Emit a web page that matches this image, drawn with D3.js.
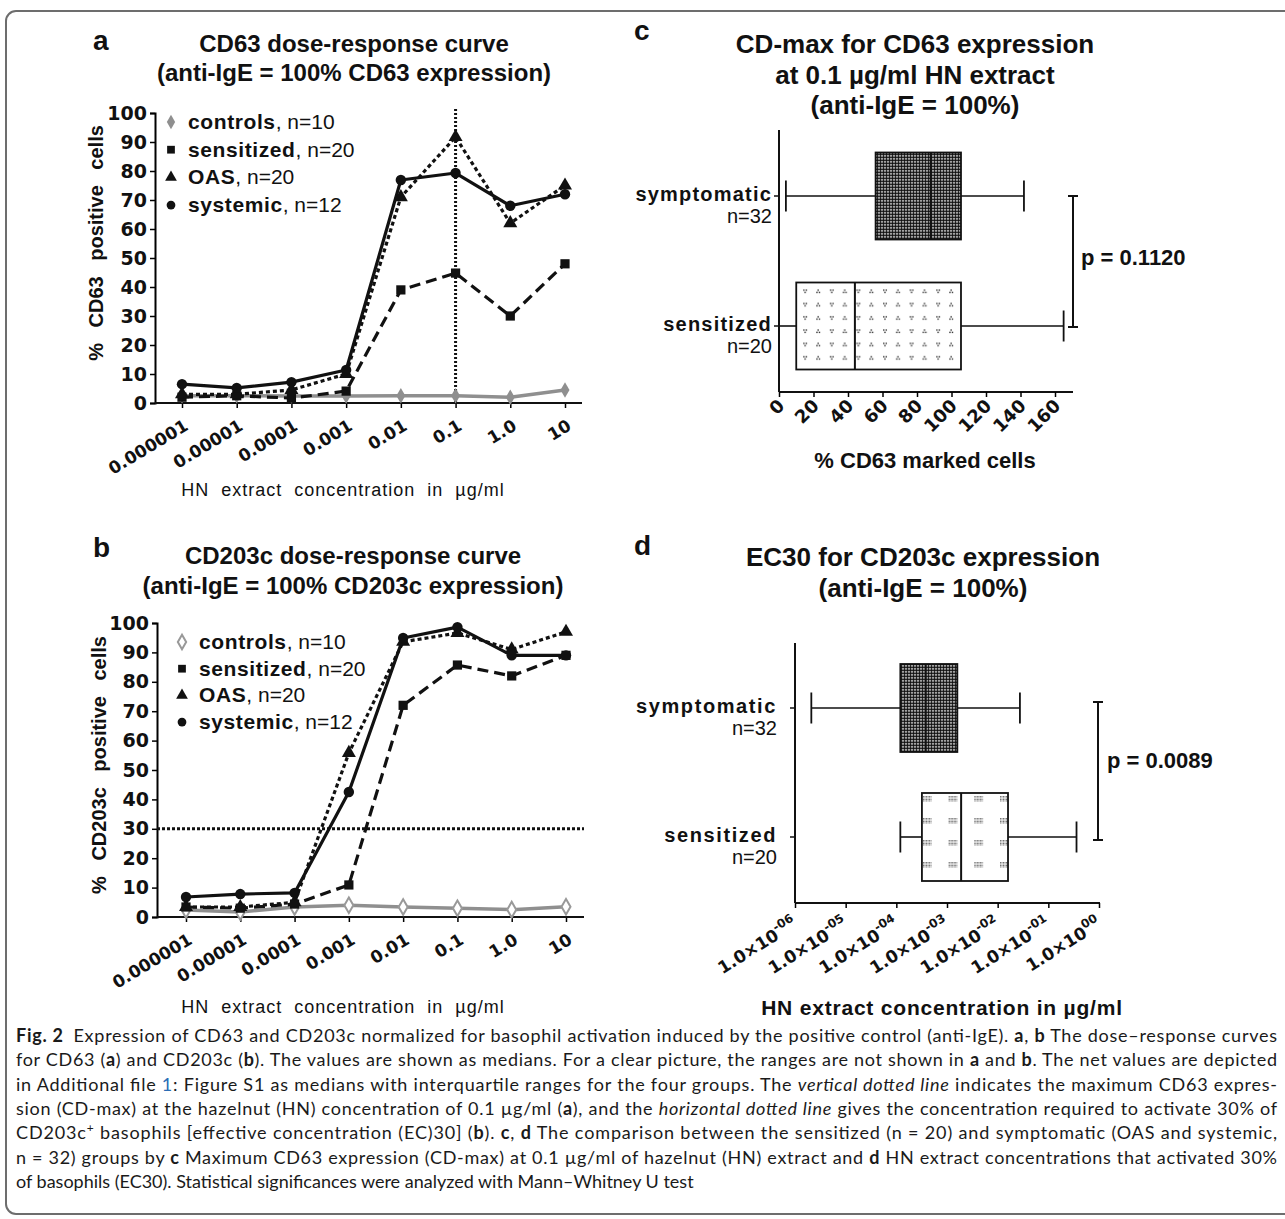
<!DOCTYPE html>
<html><head><meta charset="utf-8">
<script src="https://cdnjs.cloudflare.com/ajax/libs/d3/7.8.5/d3.min.js"></script>
<style>
body{margin:0;background:#fff;}
text{font-family:"Liberation Sans",Arial,sans-serif;fill:#111;}
.num{font-family:"DejaVu Sans",sans-serif;font-weight:bold;}
.title{font-weight:bold;}
.letter{font-weight:bold;font-size:28px;}
.cap{font-family:Lato,"Open Sans",sans-serif;font-size:18px;fill:#1a1a1a;}
</style></head><body>
<svg id="fig" width="1285" height="1219" xmlns="http://www.w3.org/2000/svg"></svg>
<script>
// ---------------- data ----------------
const concLabels = ["0.000001","0.00001","0.0001","0.001","0.01","0.1","1.0","10"];
const groupNames = ["controls","sensitized","OAS","systemic"];
const groupN = [10,20,20,12];
const cd63Controls   = [2.5,2.5,2.4,2.4,2.5,2.5,2.0,4.5];
const cd63Sensitized = [2.0,2.5,1.7,4.1,39.0,44.8,30.0,48.0];
const cd63OAS        = [3.0,3.0,4.5,10.0,71.0,91.7,62.0,75.0];
const cd63Systemic   = [6.5,5.2,7.2,11.4,76.9,79.3,68.0,72.0];
const cd203Controls   = [2.4,1.7,3.4,4.0,3.4,3.0,2.5,3.5];
const cd203Sensitized = [3.4,3.0,4.4,10.9,72.0,85.7,82.0,89.0];
const cd203OAS        = [3.4,3.4,5.0,55.8,93.6,96.6,91.0,97.0];
const cd203Systemic   = [6.8,7.8,8.2,42.5,94.9,98.6,89.0,89.0];
const percentTicks = [0,10,20,30,40,50,60,70,80,90,100];
const cdMaxConc = "0.1";
const ec30Level = 30;

const boxGroups = ["symptomatic","sensitized"];
const boxN = [32,20];
const cdmaxMin    = [4,0];
const cdmaxQ1     = [56,10];
const cdmaxMedian = [88,44];
const cdmaxQ3     = [105.5,105.5];
const cdmaxMax    = [142,165];
const cdmaxTicks  = [0,20,40,60,80,100,120,140,160];
const cdmaxP = "p = 0.1120";

const ec30Min    = [2.1e-6,1.2e-4];
const ec30Q1     = [1.2e-4,3.2e-4];
const ec30Median = [3.8e-4,1.9e-3];
const ec30Q3     = [1.6e-3,1.6e-2];
const ec30Max    = [2.75e-2,0.36];
const ec30Ticks  = [1e-6,1e-5,1e-4,1e-3,1e-2,1e-1,1];
const ec30TickExp = ["-06","-05","-04","-03","-02","-01","00"];
const ec30P = "p = 0.0089";

// ---------------- setup ----------------
const svg = d3.select("#fig");
svg.append("rect").attr("width",1285).attr("height",1219).attr("fill","#fff");
svg.append("rect").attr("x",6).attr("y",11).attr("width",1300).attr("height",1203)
  .attr("rx",10).attr("fill","none").attr("stroke","#6d6d6d").attr("stroke-width",2);

const defs = svg.append("defs");
const pd = defs.append("pattern").attr("id","dark").attr("width",3).attr("height",3).attr("patternUnits","userSpaceOnUse");
pd.append("rect").attr("width",3).attr("height",3).attr("fill","#fff");
pd.append("circle").attr("cx",1.5).attr("cy",1.5).attr("r",1.45).attr("fill","#111");

const seriesStyle = [
  {stroke:"#8f8f8f", dash:null,   sym:d3.symbolDiamond,  fill:"#8f8f8f", w:3.5},
  {stroke:"#111",    dash:"11,6", sym:d3.symbolSquare,   fill:"#111",    w:3.2},
  {stroke:"#111",    dash:"4,3",  sym:d3.symbolTriangle, fill:"#111",    w:3.2},
  {stroke:"#111",    dash:null,   sym:d3.symbolCircle,   fill:"#111",    w:3.2}
];

function dosePanel(c){
  const g = svg.append("g");
  const x = d3.scalePoint().domain(concLabels).range([c.xFirst,c.xLast]);
  const y = d3.scaleLinear().domain([0,100]).range([c.yZero,c.yTop]);
  g.append("text").attr("class","letter").attr("x",c.letterX).attr("y",c.letterY).text(c.letter);
  c.title.forEach((t,i)=>g.append("text").attr("class","title").attr("text-anchor","middle").style("font-size","24px")
    .attr("x",c.titleX).attr("y",c.titleYs[i]).text(t));
  // y axis
  const ya = g.append("g").attr("transform",`translate(${c.axisX},0)`)
    .call(d3.axisLeft(y).tickValues(percentTicks).tickSize(5).tickSizeOuter(5).tickPadding(3));
  ya.select(".domain").attr("stroke-width",2);
  ya.selectAll(".tick line").attr("stroke-width",1.5);
  ya.selectAll("text").attr("class","num").style("font-size","19px").attr("fill","#111");
  // x axis
  const xa = g.append("g").attr("transform",`translate(0,${c.yZero})`)
    .call(d3.axisBottom(x).tickSize(5).tickSizeOuter(0));
  xa.select(".domain").remove();
  xa.selectAll(".tick line").attr("stroke-width",1.5);
  xa.selectAll("text").attr("class","num").style("font-size","17px").attr("fill","#111")
    .attr("y",null).attr("dy",null).attr("text-anchor","end")
    .attr("transform","translate(7,26) rotate(-31)");
  g.append("line").attr("x1",c.axisX).attr("x2",c.axisEnd).attr("y1",c.yZero).attr("y2",c.yZero)
    .attr("stroke","#111").attr("stroke-width",2);
  // reference line
  if(c.ref==="v"){
    g.append("line").attr("x1",x(cdMaxConc)).attr("x2",x(cdMaxConc)).attr("y1",y(0)).attr("y2",y(100)-4)
      .attr("stroke","#111").attr("stroke-width",3).attr("stroke-dasharray","2,2");
  } else {
    g.append("line").attr("x1",c.axisX).attr("x2",c.axisEnd).attr("y1",y(ec30Level)).attr("y2",y(ec30Level))
      .attr("stroke","#111").attr("stroke-width",3).attr("stroke-dasharray","3,2");
  }
  // series
  const line = d3.line().x((d,i)=>x(concLabels[i])).y(d=>y(d));
  c.series.forEach((vals,k)=>{
    const s = seriesStyle[k];
    g.append("path").datum(vals).attr("d",line).attr("fill","none").attr("stroke",s.stroke)
      .attr("stroke-width",s.w).attr("stroke-dasharray",s.dash).attr("stroke-linejoin","round");
  });
  c.series.forEach((vals,k)=>{
    const s = seriesStyle[k];
    const hollow = k===0 && c.controlsHollow;
    g.selectAll(null).data(vals).enter().append("path")
      .attr("d",d3.symbol().type(s.sym).size(k===0?70:85))
      .attr("transform",(d,i)=>`translate(${x(concLabels[i])},${y(d)})`)
      .attr("fill",hollow?"#fff":s.fill).attr("stroke",hollow?"#999":"none").attr("stroke-width",2);
  });
  // legend
  groupNames.forEach((nm,k)=>{
    const s = seriesStyle[k];
    const yy = c.legY + k*c.legDy;
    const hollow = k===0 && c.controlsHollow;
    g.append("path").attr("d",d3.symbol().type(s.sym).size(60)).attr("transform",`translate(${c.legX},${yy})`)
      .attr("fill",hollow?"#fff":s.fill).attr("stroke",hollow?"#999":"none").attr("stroke-width",2);
    const t = g.append("text").attr("x",c.legX+17).attr("y",yy+7).style("font-size","21px");
    t.append("tspan").attr("font-weight","bold").style("letter-spacing","0.6px").text(nm);
    t.append("tspan").text(", n="+groupN[k]);
  });
  // axis titles
  g.append("text").attr("transform",`translate(${c.yTitleX},${c.yTitleY}) rotate(-90)`)
    .attr("text-anchor","middle").attr("font-weight","bold").style("font-size","20px")
    .style("word-spacing","10px").text(c.yTitle);
  g.append("text").attr("x",c.xTitleX).attr("y",c.xTitleY).attr("text-anchor","middle")
    .style("font-size","18px").style("word-spacing","6px").style("letter-spacing","1px")
    .text("HN extract concentration in µg/ml");
}

dosePanel({letter:"a",letterX:93,letterY:50,title:["CD63 dose-response curve","(anti-IgE = 100% CD63 expression)"],
  titleX:354,titleYs:[52,81],axisX:155,axisEnd:582,yZero:403,yTop:113,xFirst:182,xLast:565,
  series:[cd63Controls,cd63Sensitized,cd63OAS,cd63Systemic],legX:171,legY:122,legDy:27.7,
  yTitle:"% CD63 positive cells",yTitleX:103,yTitleY:243,xTitleX:343,xTitleY:496,ref:"v",controlsHollow:false});
dosePanel({letter:"b",letterX:93,letterY:557,title:["CD203c dose-response curve","(anti-IgE = 100% CD203c expression)"],
  titleX:353,titleYs:[564,594],axisX:157,axisEnd:584,yZero:917,yTop:623,xFirst:186,xLast:566,
  series:[cd203Controls,cd203Sensitized,cd203OAS,cd203Systemic],legX:182,legY:642,legDy:26.7,
  yTitle:"% CD203c positive cells",yTitleX:106,yTitleY:765,xTitleX:343,xTitleY:1013,ref:"h",controlsHollow:true});

// --------- box panels ----------
function boxPanel(c){
  const g = svg.append("g");
  const x = c.x;
  const y = d3.scalePoint().domain(boxGroups).range([c.ySym,c.ySens]);
  g.append("text").attr("class","letter").attr("x",c.letterX).attr("y",c.letterY).text(c.letter);
  c.title.forEach((t,i)=>g.append("text").attr("class","title").attr("text-anchor","middle").style("font-size","26px")
    .attr("x",c.titleX).attr("y",c.titleYs[i]).text(t));
  // axes
  g.append("line").attr("x1",c.axisX).attr("x2",c.axisX).attr("y1",c.axisTop).attr("y2",c.axisY).attr("stroke","#111").attr("stroke-width",2);
  g.append("line").attr("x1",c.axisX).attr("x2",c.axisEnd).attr("y1",c.axisY).attr("y2",c.axisY).attr("stroke","#111").attr("stroke-width",2);
  boxGroups.forEach((gr,i)=>{
    g.append("line").attr("x1",c.axisX-5).attr("x2",c.axisX).attr("y1",y(gr)).attr("y2",y(gr)).attr("stroke","#111").attr("stroke-width",1.5);
    g.append("text").attr("x",c.labelX).attr("y",y(gr)+5).attr("text-anchor","end").attr("font-weight","bold")
      .style("font-size","20px").style("letter-spacing",c.labelLS).text(gr);
    g.append("text").attr("x",c.labelX).attr("y",y(gr)+27).attr("text-anchor","end")
      .style("font-size","20px").text("n="+boxN[i]);
  });
  const xa = g.append("g").attr("transform",`translate(0,${c.axisY})`)
    .call(d3.axisBottom(x).tickValues(c.ticks).tickSize(5).tickSizeOuter(0).tickFormat(c.fmt||d3.format("d")));
  xa.select(".domain").remove();
  xa.selectAll(".tick line").attr("stroke-width",1.5);
  const tx = xa.selectAll("text").attr("class","num").style("font-size",c.tickFont).attr("fill","#111")
    .attr("y",null).attr("dy",null).attr("text-anchor","end").attr("transform",c.tickTransform);
  if(c.supTicks){
    tx.each(function(d,i){
      const t = d3.select(this); t.text(null);
      t.append("tspan").text("1.0×10");
      t.append("tspan").attr("dy",-8).style("font-size","12px").text(c.supTicks[i]);
    });
  }
  // boxes
  boxGroups.forEach((gr,i)=>{
    const yc = y(gr), h = c.boxH;
    g.append("line").attr("x1",x(c.min[i])).attr("x2",x(c.q1[i])).attr("y1",yc).attr("y2",yc).attr("stroke","#111").attr("stroke-width",1.6);
    g.append("line").attr("x1",x(c.q3[i])).attr("x2",x(c.max[i])).attr("y1",yc).attr("y2",yc).attr("stroke","#111").attr("stroke-width",1.6);
    [c.min[i],c.max[i]].forEach(v=>g.append("line").attr("x1",x(v)).attr("x2",x(v)).attr("y1",yc-c.capH/2).attr("y2",yc+c.capH/2).attr("stroke","#111").attr("stroke-width",1.8));
    g.append("rect").attr("x",x(c.q1[i])).attr("y",yc-h/2).attr("width",x(c.q3[i])-x(c.q1[i])).attr("height",h)
      .attr("fill",i===0?"url(#dark)":`url(#${c.sensPattern})`).attr("stroke","#111").attr("stroke-width",1.8);
    g.append("line").attr("x1",x(c.median[i])).attr("x2",x(c.median[i])).attr("y1",yc-h/2).attr("y2",yc+h/2).attr("stroke","#111").attr("stroke-width",2);
  });
  // p bracket
  const b1 = y(boxGroups[0])+c.brOff[0], b2 = y(boxGroups[1])+c.brOff[1];
  g.append("line").attr("x1",c.brX).attr("x2",c.brX).attr("y1",b1).attr("y2",b2).attr("stroke","#111").attr("stroke-width",2);
  [b1,b2].forEach(v=>g.append("line").attr("x1",c.brX-5).attr("x2",c.brX+5).attr("y1",v).attr("y2",v).attr("stroke","#111").attr("stroke-width",2));
  g.append("text").attr("x",c.pX).attr("y",c.pY).attr("font-weight","bold").style("font-size","22px").text(c.p);
  g.append("text").attr("x",c.xTitleX).attr("y",c.xTitleY).attr("text-anchor","middle").attr("font-weight","bold")
    .style("font-size",c.xTitleFont).style("letter-spacing",c.xTitleLS).text(c.xTitle);
}

// patterns for sensitized boxes
const xc = d3.scaleLinear().domain([0,160]).range([779,1055]);
const xd = d3.scaleLog().domain([1e-6,1]).range([795,1099]);
const pc = defs.append("pattern").attr("id","dotsC").attr("width",26.6).attr("height",13.3)
  .attr("patternUnits","userSpaceOnUse").attr("x",xc(cdmaxQ1[1])+3).attr("y",326-43.5+3);
pc.append("rect").attr("width",26.6).attr("height",13.3).attr("fill","#fff");
[[4,4],[6.5,4],[5.2,6.3],[17,6.3],[19.5,6.3],[18.2,4]].forEach(([a,b])=>pc.append("rect").attr("x",a).attr("y",b).attr("width",1.4).attr("height",1.4).attr("fill","#333"));
const pdd = defs.append("pattern").attr("id","dotsD").attr("width",25.7).attr("height",22)
  .attr("patternUnits","userSpaceOnUse").attr("x",xd(ec30Q1[1])+1).attr("y",837-44+3);
pdd.append("rect").attr("width",25.7).attr("height",22).attr("fill","#fff");
for(let a=0;a<8;a+=1.5)for(let b=0;b<6;b+=1.5) pdd.append("rect").attr("x",a).attr("y",b).attr("width",0.9).attr("height",0.9).attr("fill","#555");

boxPanel({letter:"c",letterX:634,letterY:40,title:["CD-max for CD63 expression","at 0.1 µg/ml HN extract","(anti-IgE = 100%)"],
  titleX:915,titleYs:[53,84,114],axisX:779,axisTop:130,axisY:392,axisEnd:1073,x:xc,ticks:cdmaxTicks,
  tickFont:"18px",tickTransform:"translate(6,15) rotate(-45)",ySym:196,ySens:326,boxH:87,capH:31,labelX:772,labelLS:"1.2px",
  min:cdmaxMin,q1:cdmaxQ1,median:cdmaxMedian,q3:cdmaxQ3,max:cdmaxMax,sensPattern:"dotsC",
  brX:1073,brOff:[0,1],pX:1081,pY:265,p:cdmaxP,xTitle:"% CD63 marked cells",xTitleX:925,xTitleY:468,xTitleFont:"22px",xTitleLS:"0px"});
boxPanel({letter:"d",letterX:634,letterY:555,title:["EC30 for CD203c expression","(anti-IgE = 100%)"],
  titleX:923,titleYs:[566,597],axisX:795,axisTop:643,axisY:903,axisEnd:1100,x:xd,ticks:ec30Ticks,
  fmt:(d,i)=>"1.0×10",supTicks:ec30TickExp,
  tickFont:"17px",tickTransform:"translate(3,24) rotate(-32)",ySym:708,ySens:837,boxH:88,capH:31,labelX:777,labelLS:"1.6px",
  min:ec30Min,q1:ec30Q1,median:ec30Median,q3:ec30Q3,max:ec30Max,sensPattern:"dotsD",
  brX:1098,brOff:[-6,3],pX:1107,pY:768,p:ec30P,xTitle:"HN extract concentration in µg/ml",xTitleX:942,xTitleY:1015,xTitleFont:"21px",xTitleLS:"0.8px"});

// --------- caption ----------
const capLines = [
  [["Fig. 2","b"],["\u2002Expression of CD63 and CD203c normalized for basophil activation induced by the positive control (anti-IgE). "],["a","b"],[", "],["b","b"],[" The dose–response curves"]],
  [["for CD63 ("],["a","b"],[") and CD203c ("],["b","b"],["). The values are shown as medians. For a clear picture, the ranges are not shown in "],["a","b"],[" and "],["b","b"],[". The net values are depicted"]],
  [["in Additional file "],["1","l"],[": Figure S1 as medians with interquartile ranges for the four groups. The "],["vertical dotted line","i"],[" indicates the maximum CD63 expres-"]],
  [["sion (CD-max) at the hazelnut (HN) concentration of 0.1 µg/ml ("],["a","b"],["), and the "],["horizontal dotted line","i"],[" gives the concentration required to activate 30% of"]],
  [["CD203c"],["+","sup"],[" basophils [effective concentration (EC)30] ("],["b","b"],["). "],["c","b"],[", "],["d","b"],[" The comparison between the sensitized (n = 20) and symptomatic (OAS and systemic,"]],
  [["n = 32) groups by "],["c","b"],[" Maximum CD63 expression (CD-max) at 0.1 µg/ml of hazelnut (HN) extract and "],["d","b"],[" HN extract concentrations that activated 30%"]],
  [["of basophils (EC30). Statistical significances were analyzed with Mann–Whitney U test"]]
];
capLines.forEach((segs,i)=>{
  const t = svg.append("text").attr("class","cap").attr("x",16).attr("y",1042+i*24.3);
  let afterSup = false;
  segs.forEach(([s,st])=>{
    const ts = t.append("tspan").text(s);
    if(afterSup){ts.attr("dy",7); afterSup=false;}
    if(st==="b") ts.attr("font-weight","bold");
    if(st==="i") ts.attr("font-style","italic");
    if(st==="l") ts.attr("fill","#2a6db5");
    if(st==="sup"){ts.attr("dy",-7).style("font-size","12px"); afterSup=true;}
  });
  if(i<capLines.length-1) t.attr("textLength",1261).attr("lengthAdjust","spacing");
});
</script></body></html>
